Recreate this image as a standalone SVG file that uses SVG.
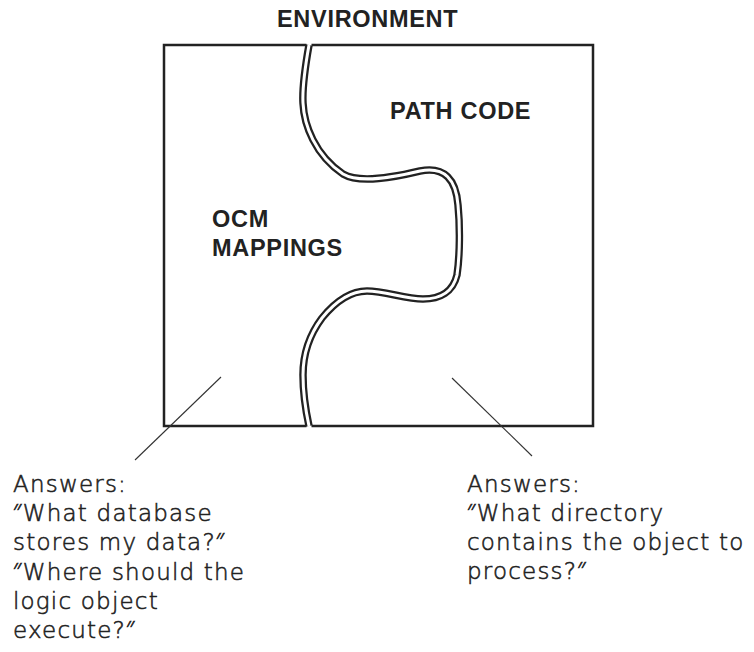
<svg xmlns="http://www.w3.org/2000/svg" width="754" height="652" viewBox="0 0 754 652">
<style>
.bg{fill:#ffffff}
.edge{fill:none;stroke:#222;stroke-width:2.5;stroke-linejoin:miter}
.seamOuter{fill:none;stroke:#222;stroke-width:7.5}
.seamInner{fill:none;stroke:#ffffff;stroke-width:3}
.lead{fill:none;stroke:#333;stroke-width:1.1}
.head{font-family:"Liberation Sans",Arial,sans-serif;font-weight:bold;font-size:23.5px;letter-spacing:0.7px;fill:#222}
.body{font-family:"DejaVu Sans","Open Sans",sans-serif;font-weight:300;font-size:23px;letter-spacing:1.2px;fill:#222;stroke:#222;stroke-width:0.55px}
</style>
<defs>
<path id="seam" d="M309,45 C306,62 302,85 303,103 C304,125 315,155 343,174 C360,184 395,177 420,171 C445,166 456,180 458,205 C460,225 460,255 457,275 C453,292 440,299 423,299 C405,299 385,291 367,291 C350,291 335,302 322,318 C310,334 303,352 303,375 C303,395 306,412 309,426"/>
</defs>
<rect class="bg" x="0" y="0" width="754" height="652"/>
<g id="environment">
<text class="head" x="277" y="27">ENVIRONMENT</text>
</g>
<g id="seam-line">
<use href="#seam" class="seamOuter"/>
<use href="#seam" class="seamInner"/>
</g>
<g id="ocm-mappings">
<path class="edge" d="M306.5,426 H164 V45 H306.5"/>
<text class="head" x="212" y="227">OCM</text>
<text class="head" x="212" y="256">MAPPINGS</text>
</g>
<g id="path-code">
<path class="edge" d="M311.5,45 H593 V426 H311.5"/>
<text class="head" x="390" y="119">PATH CODE</text>
</g>
<g id="connectors">
<line class="lead" x1="221" y1="377" x2="135" y2="460"/>
<line class="lead" x1="452" y1="378" x2="532" y2="456"/>
</g>
<g id="ocm-answers">
<text class="body" x="13" y="492">Answers:</text>
<text class="body" x="13" y="521">″What database</text>
<text class="body" x="13" y="550">stores my data?″</text>
<text class="body" x="13" y="580">″Where should the</text>
<text class="body" x="13" y="609">logic object</text>
<text class="body" x="13" y="638">execute?″</text>
</g>
<g id="path-answers">
<text class="body" x="467" y="492">Answers:</text>
<text class="body" x="467" y="521">″What directory</text>
<text class="body" x="467" y="550">contains the object to</text>
<text class="body" x="467" y="579">process?″</text>
</g>
</svg>
